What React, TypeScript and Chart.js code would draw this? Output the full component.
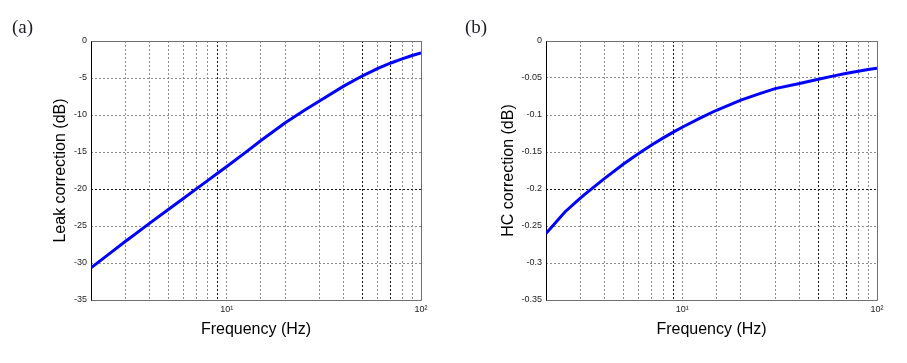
import React, { useEffect, useRef } from 'react';
import { Chart, registerables } from 'chart.js';

Chart.register(...registerables);
Chart.defaults.font.family = '"Liberation Sans", Arial, Helvetica, sans-serif';

// ---- data ----
const frequencyHz = [2, 2.5, 3, 3.15, 4, 5, 6, 7, 8, 9, 10, 12.5, 15, 20, 25, 30, 40, 50, 60, 70, 80, 90, 100];
const leakCorrectionDb = [
  -30.65, -28.7, -27.1, -26.68, -24.65, -22.78, -21.25, -19.95, -18.83, -17.84, -16.95, -15.05,
  -13.45, -11.05, -9.4, -8.12, -6.1, -4.7, -3.71, -2.97, -2.42, -1.96, -1.6,
];
const hcCorrectionDb = [
  -0.26, -0.231, -0.2124, -0.2075, -0.1857, -0.1663, -0.1516, -0.1402, -0.1309, -0.1232, -0.1166,
  -0.1035, -0.0936, -0.0798, -0.0711, -0.0644, -0.0575, -0.0517, -0.0471, -0.0436, -0.0408,
  -0.0385, -0.0369,
];
const xRange = [2, 100];
const xTickValues = [10, 100];
const xTickLabels = ['10¹', '10²'];
const darkXGrid = [9, 50, 70];
const leakYRange = [-35, 0];
const leakYStep = 5;
const hcYRange = [-0.35, 0];
const hcYStep = 0.05;
const panelLabels = ['(a)', '(b)'];
const yTitles = ['Leak correction (dB)', 'HC correction (dB)'];
const xTitle = 'Frequency (Hz)';

const framePlugin = {
  id: 'frame',
  beforeDatasetsDraw(chart: any) {
    const { ctx, chartArea: a } = chart;
    const l = Math.round(a.left) + 0.5;
    const t = Math.round(a.top) + 0.5;
    const r = Math.round(a.right) + 0.5;
    const b = Math.round(a.bottom) + 0.5;
    ctx.save();
    ctx.setLineDash([]);
    ctx.lineWidth = 1;
    ctx.strokeStyle = '#707070';
    ctx.beginPath();
    ctx.moveTo(l, t);
    ctx.lineTo(r, t);
    ctx.lineTo(r, b);
    ctx.lineTo(l, b);
    ctx.stroke();
    ctx.strokeStyle = '#000';
    ctx.beginPath();
    ctx.moveTo(l, t);
    ctx.lineTo(l, b);
    ctx.stroke();
    ctx.restore();
  },
};

type PanelProps = {
  width: number;
  height: number;
  values: number[];
  yRange: number[];
  yStep: number;
  darkY: number;
  decimals: number;
  yTitle: string;
  yAxisWidth: number;
  yTitlePad: number;
  padRight: number;
};

function Panel(p: PanelProps) {
  const ref = useRef<HTMLCanvasElement>(null);
  useEffect(() => {
    const canvas = ref.current!;
    const near = (a: number, b: number) => Math.abs(a - b) < 1e-6;
    const chart = new Chart(canvas, {
      type: 'line',
      data: {
        datasets: [
          {
            data: frequencyHz.map((f, i) => ({ x: f, y: p.values[i] })),
            borderColor: '#0000ff',
            borderWidth: 3,
            pointRadius: 0,
            tension: 0,
            fill: false,
          },
        ],
      },
      options: {
        responsive: false,
        animation: false,
        events: [],
        layout: { padding: { top: 41, right: p.padRight, bottom: 0, left: 0 } },
        plugins: {
          legend: { display: false },
          tooltip: { enabled: false },
          title: { display: false },
        },
        scales: {
          x: {
            type: 'logarithmic',
            min: xRange[0],
            max: xRange[1],
            afterFit: (s: any) => {
              s.height = 63;
            },
            grid: {
              color: (ctx: any) =>
                ctx.tick && darkXGrid.some((d) => near(d, ctx.tick.value)) ? '#111' : '#8c8c8c',
              lineWidth: 1,
              drawTicks: false,
            },
            border: { display: false, dash: [2, 2] },
            ticks: {
              autoSkip: false,
              maxRotation: 0,
              minRotation: 0,
              padding: 4,
              color: '#222',
              font: { size: 9 },
              callback: (v: any) => {
                const idx = xTickValues.findIndex((t) => near(t, Number(v)));
                return idx >= 0 ? xTickLabels[idx] : '';
              },
            },
            title: {
              display: true,
              text: xTitle,
              color: '#000',
              font: { size: 16 },
              padding: { top: 0, bottom: 24 },
            },
          },
          y: {
            type: 'linear',
            min: p.yRange[0],
            max: p.yRange[1],
            afterFit: (s: any) => {
              s.width = p.yAxisWidth;
            },
            grid: {
              color: (ctx: any) => (ctx.tick && near(ctx.tick.value, p.darkY) ? '#111' : '#8c8c8c'),
              lineWidth: 1,
              drawTicks: false,
            },
            border: { display: false, dash: [2, 2] },
            ticks: {
              stepSize: p.yStep,
              padding: 4,
              color: '#222',
              font: { size: 9 },
              callback: (v: any) => {
                const f = Math.pow(10, p.decimals);
                const r = Math.round(Number(v) * f) / f;
                return r === 0 ? '0' : String(r);
              },
            },
            title: {
              display: true,
              text: p.yTitle,
              color: '#000',
              font: { size: 16 },
              padding: { top: p.yTitlePad, bottom: 0 },
            },
          },
        },
      } as any,
      plugins: [framePlugin],
    });
    return () => chart.destroy();
  }, []);
  return (
    <canvas
      ref={ref}
      width={p.width}
      height={p.height}
      style={{ width: p.width, height: p.height, display: 'block' }}
    />
  );
}

const labelStyle: React.CSSProperties = {
  position: 'absolute',
  top: 17,
  fontFamily: '"Liberation Serif", "Times New Roman", serif',
  fontSize: 19,
  lineHeight: '19px',
  color: '#1e1e2a',
};

export default function App() {
  return (
    <div
      style={{
        position: 'absolute',
        left: 0,
        top: 0,
        width: 907,
        height: 363,
        background: '#fff',
        overflow: 'hidden',
      }}
    >
      <div style={{ position: 'absolute', left: 0, top: 0 }}>
        <Panel
          width={453}
          height={363}
          values={leakCorrectionDb}
          yRange={leakYRange}
          yStep={leakYStep}
          darkY={-20}
          decimals={0}
          yTitle={yTitles[0]}
          yAxisWidth={91}
          yTitlePad={51}
          padRight={32}
        />
      </div>
      <div style={{ position: 'absolute', left: 453, top: 0 }}>
        <Panel
          width={454}
          height={363}
          values={hcCorrectionDb}
          yRange={hcYRange}
          yStep={hcYStep}
          darkY={-0.2}
          decimals={2}
          yTitle={yTitles[1]}
          yAxisWidth={93}
          yTitlePad={46}
          padRight={30}
        />
      </div>
      <div style={{ ...labelStyle, left: 12 }}>{panelLabels[0]}</div>
      <div style={{ ...labelStyle, left: 465 }}>{panelLabels[1]}</div>
    </div>
  );
}
